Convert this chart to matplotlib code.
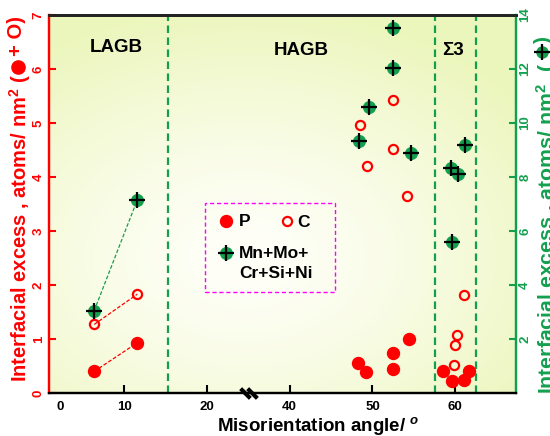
import numpy as np
import matplotlib
matplotlib.use("Agg")
import matplotlib.pyplot as plt
from matplotlib.patches import Rectangle
from matplotlib.lines import Line2D
import matplotlib.transforms as mtrans

plt.rcParams['font.family'] = ['Liberation Sans', 'DejaVu Sans']
plt.rcParams['font.weight'] = 'bold'
plt.rcParams['mathtext.fontset'] = 'custom'
plt.rcParams['mathtext.rm'] = 'Liberation Sans:bold'
plt.rcParams['mathtext.it'] = 'Liberation Sans:italic:bold'
plt.rcParams['mathtext.bf'] = 'Liberation Sans:bold'

RED = '#ff0000'
GREEN = '#12a04e'

# ---------------- data ----------------
# LAGB (connected pairs)
lagb_x = [6.4, 11.6]
lagb_P = [0.40, 0.93]
lagb_C = [1.27, 1.83]
lagb_M = [3.05, 7.15]          # right axis

# HAGB + Sigma3
hagb_P_x = [48.2, 49.2, 52.5, 52.5, 54.4, 58.5, 59.6, 61.1, 61.7]
hagb_P_y = [0.55, 0.39, 0.75, 0.44, 1.00, 0.41, 0.23, 0.24, 0.41]

hagb_C_x = [52.5, 48.5, 52.5, 49.4, 54.2, 61.1, 60.2, 60.0, 59.9]
hagb_C_y = [5.43, 4.96, 4.51, 4.21, 3.64, 1.82, 1.08, 0.89, 0.51]

hagb_M_x = [52.5, 52.5, 49.6, 48.4, 54.6, 61.2, 59.5, 60.3, 59.6]
hagb_M_y = [13.5, 12.05, 10.6, 9.35, 8.9, 9.2, 8.35, 8.1, 5.6]

boundaries = [15.3, 57.6, 62.5]
xtick_vals = [2.3, 10, 20, 40, 50, 60]
xtick_labels = ['0', '10', '20', '40', '50', '60']
region_labels = ['LAGB', 'HAGB', 'Σ3']

# ---------------- broken x scale ----------------
def fwd(x):
    x = np.asarray(x, float)
    return np.where(x <= 24, x, np.where(x < 36, 24 + (x - 24) / 6.0, x - 10))

def inv(u):
    u = np.asarray(u, float)
    return np.where(u <= 24, u, np.where(u < 26, 24 + (u - 24) * 6.0, u + 10))

W, H = 550, 436
fig = plt.figure(figsize=(5.5, 4.36), dpi=100)
ax = fig.add_axes([49/W, 1 - 393/H, (515.7-49)/W, (393-15)/H])
ax.set_xscale('function', functions=(fwd, inv))
ax.set_xlim(0.94, 67.3)
ax.set_ylim(0, 7)
ax2 = ax.twinx()
ax2.set_ylim(0, 14)

# background gradient
ny, nx = 200, 250
yy, xx = np.mgrid[0:1:ny*1j, 0:1:nx*1j]
d = np.sqrt(((xx - 0.42) / 0.75) ** 2 + ((yy - 0.36) / 0.66) ** 2)
t = np.clip(d, 0, 1) ** 1.4
c0 = np.array([1.0, 1.0, 0.975])
c1 = np.array([0.925, 0.965, 0.74])
img = c0[None, None, :] * (1 - t[..., None]) + c1[None, None, :] * t[..., None]
ax.imshow(img, extent=(0, 1, 0, 1), transform=ax.transAxes, aspect='auto',
          origin='lower', zorder=0)

# boundaries
for b in boundaries:
    ax.axvline(b, color=GREEN, lw=1.6, linestyle=(0, (3.4, 2.0)), zorder=1)

# LAGB connected points
ax.plot(lagb_x, lagb_P, color=RED, lw=0.9, linestyle=(0, (3, 1.5)), zorder=2)
ax.plot(lagb_x, lagb_P, 'o', color=RED, ms=8.6, mec=RED, zorder=4)
ax.plot(lagb_x, lagb_C, color=RED, lw=0.9, linestyle=(0, (3, 1.5)), zorder=2)
ax.plot(lagb_x, lagb_C, 'o', mfc='none', mec=RED, ms=6.6, mew=1.6, zorder=4)
ax2.plot(lagb_x, lagb_M, color=GREEN, lw=0.9, linestyle=(0, (3, 1.5)), zorder=2)
ax2.plot(lagb_x, lagb_M, 'o', color=GREEN, ms=8.4, zorder=4)
ax2.plot(lagb_x, lagb_M, '+', color='black', ms=12, mew=1.6, zorder=5)

# HAGB / Sigma3 points
ax.plot(hagb_P_x, hagb_P_y, 'o', color=RED, ms=8.6, zorder=4)
ax.plot(hagb_C_x, hagb_C_y, 'o', mfc='none', mec=RED, ms=6.6, mew=1.6, zorder=4)
ax2.plot(hagb_M_x, hagb_M_y, 'o', color=GREEN, ms=8.4, zorder=4)
ax2.plot(hagb_M_x, hagb_M_y, '+', color='black', ms=12, mew=1.6, zorder=5)

# region labels
for lab, px, py in zip(region_labels, [0.145, 0.541, 0.865], [0.913, 0.906, 0.907]):
    ax.text(px, py, lab, transform=ax.transAxes, ha='center', va='center',
            fontsize=13.5, fontweight='bold', color='black', zorder=6)

# legend (manual)
ax.add_patch(Rectangle((0.334, 0.268), 0.279, 0.235, transform=ax.transAxes,
                       fill=False, ec='#ff00ff', lw=1.0, linestyle=(0, (3, 2)), zorder=6))
ax.plot([0.379], [0.455], 'o', color=RED, ms=8.6, transform=ax.transAxes, zorder=7, clip_on=False)
ax.text(0.407, 0.455, 'P', transform=ax.transAxes, ha='left', va='center', fontsize=12.5, fontweight='bold')
ax.plot([0.509], [0.455], 'o', mfc='none', mec=RED, ms=6.6, mew=1.6, transform=ax.transAxes, zorder=7, clip_on=False)
ax.text(0.532, 0.452, 'C', transform=ax.transAxes, ha='left', va='center', fontsize=12.5, fontweight='bold')
ax.plot([0.379], [0.370], 'o', color=GREEN, ms=8.4, transform=ax.transAxes, zorder=7, clip_on=False)
ax.plot([0.379], [0.370], '+', color='black', ms=12, mew=1.6, transform=ax.transAxes, zorder=8, clip_on=False)
ax.text(0.407, 0.370, 'Mn+Mo+', transform=ax.transAxes, ha='left', va='center', fontsize=12.5, fontweight='bold')
ax.text(0.407, 0.317, 'Cr+Si+Ni', transform=ax.transAxes, ha='left', va='center', fontsize=12.5, fontweight='bold')

# ticks
ax.set_xticks(xtick_vals)
ax.set_xticklabels(xtick_labels)
ax.xaxis.set_minor_locator(matplotlib.ticker.NullLocator())
ax.xaxis.get_major_ticks()[0].tick1line.set_visible(False)
ax.tick_params(axis='x', direction='in', length=6, width=1.5, pad=5.5,
               labelsize=9.5, colors='black', top=False)
ax.set_yticks(range(0, 8))
ax.tick_params(axis='y', direction='in', length=5, width=1.5, pad=3,
               labelsize=9.5, colors=RED, labelrotation=90)
for lbl in ax.get_yticklabels():
    lbl.set_va('center')
ax2.set_yticks(range(2, 16, 2))
ax2.tick_params(axis='y', direction='in', length=5, width=1.5, pad=2.5,
                labelsize=9.5, colors=GREEN, labelrotation=90)
for lbl in ax2.get_yticklabels():
    lbl.set_va('center')
for lbl in ax.get_xticklabels() + ax.get_yticklabels() + ax2.get_yticklabels():
    lbl.set_fontweight('bold')

# spines
for a in (ax, ax2):
    a.spines['left'].set_color(RED)
    a.spines['left'].set_linewidth(1.6)
    a.spines['right'].set_color(GREEN)
    a.spines['right'].set_linewidth(1.6)
    a.spines['bottom'].set_color('black')
    a.spines['bottom'].set_linewidth(1.6)
    a.spines['top'].set_color('#222222')
    a.spines['top'].set_linewidth(2.0)

# axis break mark "\\"
brk = [(-1, 1), (1, -1)]
blend = mtrans.blended_transform_factory(ax.transData, ax.transAxes)
for dx in (-3.5, 3.5):
    tr = mtrans.offset_copy(blend, fig=fig, x=dx, y=0, units='dots')
    ax.plot([30], [0], marker=brk, ms=7, mew=3.0, color='black',
            transform=tr, clip_on=False, zorder=10)

# ---------------- axis labels ----------------
# left label: "Interfacial excess , atoms/ nm2 ( [filled circle] + O)"
lkw = dict(rotation=90, ha='left', fontsize=14.5, fontweight='bold', color=RED)
fig.text(7/W, 1 - 74/H, 'Interfacial excess , atoms/ nm$^2$ (', va='top', **lkw)
fig.add_artist(Line2D([18/W], [1 - 67/H], marker='o', color=RED, ms=9.5,
                      transform=fig.transFigure))
fig.text(7/W, 1 - 56/H, '+ O)', va='bottom', **lkw)

# right label: "Interfacial excess , atoms/ nm2 ( [green plus] )"
rkw = dict(rotation=90, ha='left', fontsize=15.3, fontweight='bold', color=GREEN)
fig.text(534/W, 1 - 63/H, 'Interfacial excess , atoms/ nm$^2$  (', va='top', **rkw)
fig.add_artist(Line2D([542/W], [1 - 52/H], marker='o', color=GREEN, ms=8,
                      transform=fig.transFigure))
fig.add_artist(Line2D([542/W], [1 - 52/H], marker='+', color='black', ms=11,
                      mew=1.6, transform=fig.transFigure))
fig.text(534/W, 1 - 43/H, ')', va='bottom', **rkw)

fig.text(318/W, 5/H, 'Misorientation angle/ $^{\\it o}$', ha='center',
         va='baseline', fontsize=13.5, fontweight='bold', color='black')

fig.savefig('out.png', dpi=100)
